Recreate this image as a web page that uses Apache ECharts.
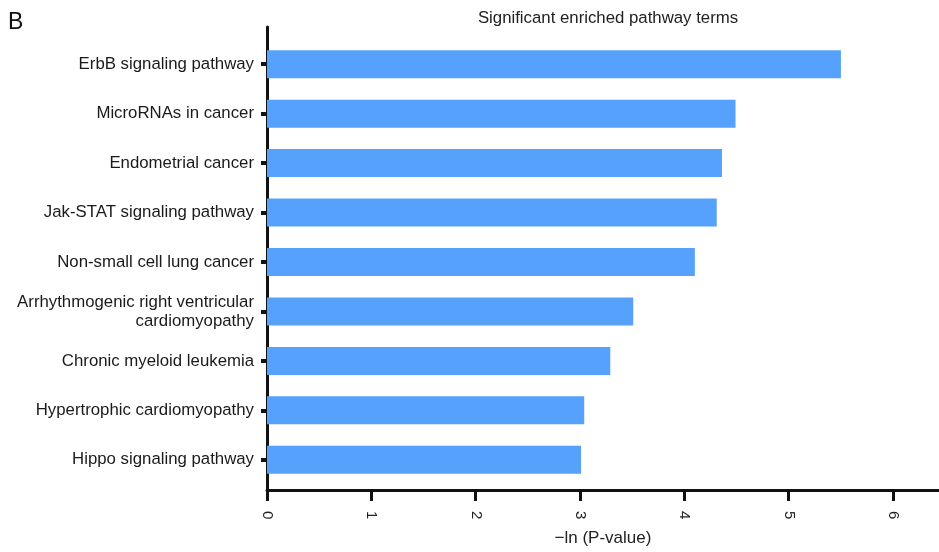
<!DOCTYPE html>
<html>
<head>
<meta charset="utf-8">
<script src="https://cdn.jsdelivr.net/npm/echarts@6/dist/echarts.min.js"></script>
<style>
  html, body { margin: 0; padding: 0; background: #fff; }
  #chart { width: 939px; height: 552px; }
</style>
</head>
<body>
<div id="chart"></div>
<script>
// KEGG pathway terms, top to bottom
const categories = [
  'ErbB signaling pathway',
  'MicroRNAs in cancer',
  'Endometrial cancer',
  'Jak-STAT signaling pathway',
  'Non-small cell lung cancer',
  'Arrhythmogenic right ventricular\ncardiomyopathy',
  'Chronic myeloid leukemia',
  'Hypertrophic cardiomyopathy',
  'Hippo signaling pathway'
];
// -ln(P-value) for each term
const values = [5.50, 4.49, 4.36, 4.31, 4.10, 3.51, 3.29, 3.04, 3.01];
// x axis tick labels
const xTicks = [0, 1, 2, 3, 4, 5, 6];
const xMax = 6.44;

const FONT = '"Liberation Sans", Helvetica, Arial, sans-serif';
const INK = '#111';

const chart = echarts.init(document.getElementById('chart'), null, { renderer: 'canvas' });

chart.setOption({
  animation: false,
  backgroundColor: '#fff',
  textStyle: { fontFamily: FONT },
  title: [
    {
      text: 'Significant enriched pathway terms',
      left: 603, top: 5, textAlign: 'center',
      textStyle: { fontFamily: FONT, fontSize: 16.8, fontWeight: 'normal', color: '#222' }
    },
    {
      text: 'B',
      left: 3, top: 6,
      textStyle: { fontFamily: FONT, fontSize: 23, fontWeight: 'normal', color: '#111' }
    }
  ],
  grid: [
    // frame: axis lines and x ticks
    { left: 267, right: 0, top: 27, bottom: 60 },
    // bar area
    { left: 267, right: 0, top: 39.5, bottom: 67.5 }
  ],
  xAxis: [
    {
      gridIndex: 0, type: 'value', min: 0, max: xMax, interval: 1,
      axisLine: { show: true, lineStyle: { color: INK, width: 3 } },
      axisTick: { show: true, length: 11, customValues: xTicks, lineStyle: { color: INK, width: 3 } },
      axisLabel: {
        show: true, customValues: xTicks, rotate: -90, margin: 21,
        fontSize: 15, color: '#222', fontFamily: FONT
      },
      splitLine: { show: false },
      name: '\u2212ln (P-value)', nameLocation: 'middle', nameGap: 40,
      nameTextStyle: { fontSize: 17, color: '#222', fontFamily: FONT }
    },
    {
      gridIndex: 1, type: 'value', min: 0, max: xMax, show: false,
      splitLine: { show: false }
    }
  ],
  yAxis: [
    {
      gridIndex: 0, type: 'value', min: 0, max: 1,
      axisLine: { show: true, lineStyle: { color: INK, width: 3 } },
      axisTick: { show: false }, axisLabel: { show: false }, splitLine: { show: false }
    },
    {
      gridIndex: 1, type: 'category', inverse: true, data: categories,
      axisLine: { show: false },
      axisTick: { show: true, alignWithLabel: true, length: 6, lineStyle: { color: INK, width: 4 } },
      axisLabel: {
        margin: 13, fontSize: 16.8, lineHeight: 19, color: '#1a1a1a', fontFamily: FONT, align: 'right'
      },
      splitLine: { show: false }
    }
  ],
  series: [
    {
      type: 'bar', xAxisIndex: 1, yAxisIndex: 1,
      data: values, barWidth: 28,
      itemStyle: { color: '#56a1fc' }
    }
  ]
});
</script>
</body>
</html>
